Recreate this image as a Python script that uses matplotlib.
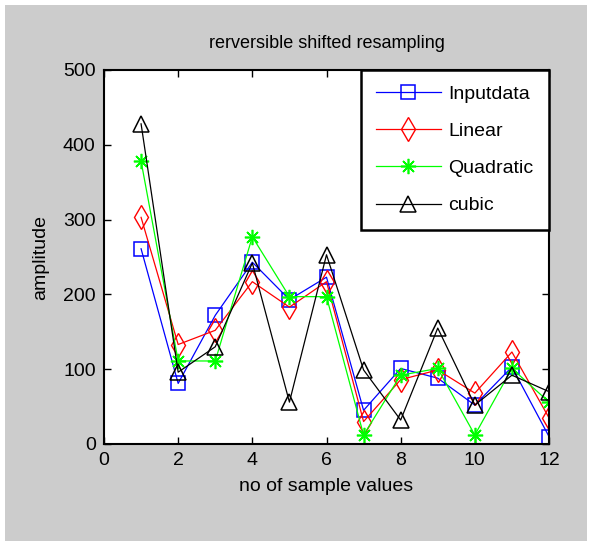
import matplotlib.pyplot as plt
from matplotlib.patches import Rectangle

# Sample positions and the four resampled series
samples = list(range(1, 13))
inputdata = [261, 81, 172, 243, 193, 223, 45, 101, 88, 52, 103, 10]
linear = [303, 133, 152, 217, 183, 217, 30, 86, 99, 68, 123, 35]
quadratic = [378, 111, 111, 277, 197, 197, 12, 92, 101, 12, 101, 56]
cubic = [428, 96, 130, 242, 56, 253, 99, 32, 155, 52, 92, 70]

x_ticks = [0, 2, 4, 6, 8, 10, 12]
y_ticks = [0, 100, 200, 300, 400, 500]

plt.rcParams['font.family'] = ['Liberation Sans Narrow', 'Liberation Sans', 'DejaVu Sans']

fig = plt.figure(figsize=(5.92, 5.43), dpi=100, facecolor='white')
W, H = 592, 543
# grey figure panel inside a thin white border
fig.patches.append(Rectangle((5 / W, 1 - 541 / H), 582 / W, 536 / H,
                             transform=fig.transFigure, facecolor='#cccccc',
                             edgecolor='none', zorder=-10))

ax = fig.add_axes([104 / W, 1 - 444 / H, 445 / W, 374 / H])
ax.set_facecolor('white')

green = '#00ff00'
ax.plot(samples, inputdata, color='blue', lw=0.9, marker='s', ms=10,
        mfc='none', mec='blue', mew=1.1, label='Inputdata')
ax.plot(samples, linear, color='red', lw=0.9, marker='d', ms=12,
        mfc='none', mec='red', mew=1.0, label='Linear')
ax.plot(samples, quadratic, color=green, lw=0.9, marker=(8, 2, 0), ms=11,
        mec=green, mew=1.2, label='Quadratic')
ax.plot(samples, cubic, color='black', lw=0.9, marker='^', ms=11,
        mfc='none', mec='black', mew=1.1, label='cubic')

ax.set_xlim(0, 12)
ax.set_ylim(0, 500)
ax.set_xticks(x_ticks)
ax.set_yticks(y_ticks)
ax.tick_params(direction='in', top=True, right=True, length=5, width=1,
               labelsize=14, pad=6)
for s in ax.spines.values():
    s.set_linewidth(1.5)

ax.set_title('rerversible shifted resampling', fontsize=13, pad=16)
ax.set_xlabel('no of sample values', fontsize=14, labelpad=6)
ax.set_ylabel('amplitude', fontsize=14, labelpad=10)

leg = ax.legend(loc='upper right', fontsize=14, numpoints=1, handlelength=3.3,
                handletextpad=0.4, labelspacing=1.0, borderaxespad=0,
                borderpad=0.8, fancybox=False, framealpha=1,
                edgecolor='black')
leg.get_frame().set_linewidth(1.8)

fig.savefig('out.png', dpi=100, facecolor='white')
